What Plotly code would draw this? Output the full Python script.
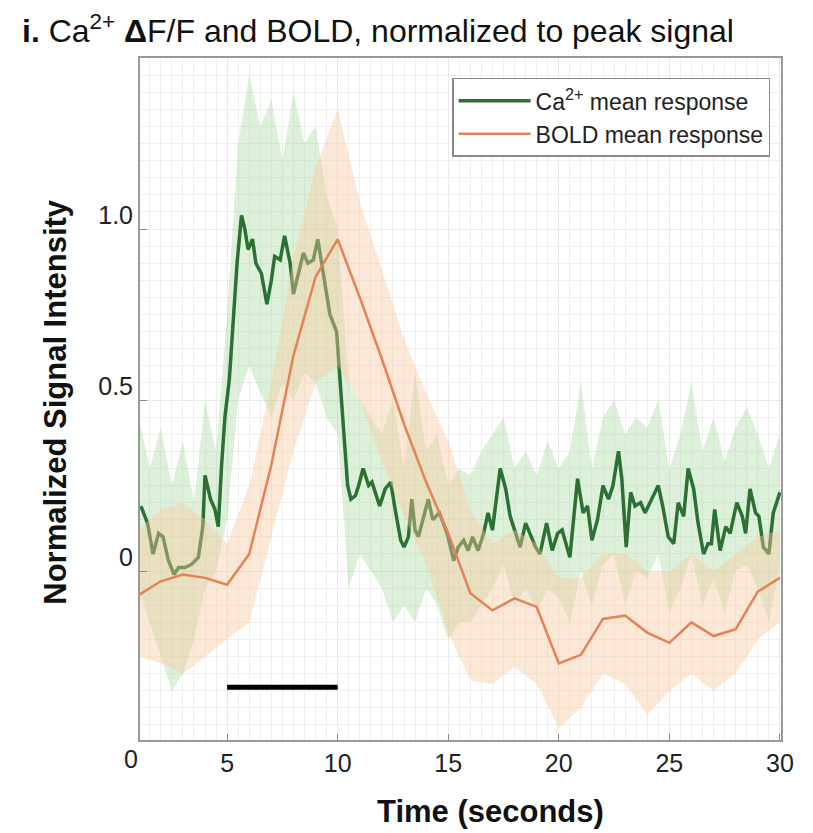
import plotly.graph_objects as go

# ---------------- data ----------------
ca_time = [1.1, 1.4, 1.65, 1.9, 2.1, 2.35, 2.6, 2.8, 3.1, 3.4,
           3.7, 3.9, 4.0, 4.25, 4.45, 4.6, 4.75, 4.9, 5.1, 5.3,
           5.45, 5.65, 5.8, 5.95, 6.15, 6.3, 6.55, 6.8, 7.0, 7.15,
           7.4, 7.6, 7.85, 8.0, 8.2, 8.45, 8.65, 8.9, 9.1, 9.35,
           9.65, 9.95, 10.2, 10.45, 10.6, 10.8, 10.95, 11.15, 11.4, 11.55,
           11.7, 11.9, 12.15, 12.4, 12.6, 12.85, 13.0, 13.2, 13.35, 13.5,
           13.65, 13.9, 14.1, 14.3, 14.6, 14.95, 15.25, 15.45, 15.7, 15.9,
           16.1, 16.35, 16.6, 16.8, 17.0, 17.35, 17.6, 17.8, 18.05, 18.25,
           18.5, 18.7, 18.95, 19.15, 19.45, 19.7, 19.95, 20.15, 20.5, 20.85,
           21.1, 21.3, 21.5, 21.75, 22.0, 22.25, 22.45, 22.7, 22.85, 23.05,
           23.25, 23.45, 23.7, 23.9, 24.2, 24.5, 24.7, 24.95, 25.2, 25.4,
           25.65, 25.85, 26.1, 26.3, 26.55, 26.75, 26.9, 27.05, 27.3, 27.55,
           27.75, 28.05, 28.3, 28.45, 28.65, 28.9, 29.05, 29.25, 29.5, 29.7,
           30.0]
ca_mean = [0.19, 0.14, 0.05, 0.11, 0.10, 0.03, -0.01, 0.01, 0.01, 0.02,
           0.04, 0.13, 0.28, 0.21, 0.18, 0.13, 0.31, 0.45, 0.56, 0.75,
           0.90, 1.04, 1.00, 0.94, 0.97, 0.90, 0.87, 0.78, 0.85, 0.92,
           0.91, 0.98, 0.90, 0.81, 0.86, 0.93, 0.90, 0.91, 0.97, 0.87,
           0.75, 0.70, 0.46, 0.25, 0.21, 0.22, 0.25, 0.30, 0.25, 0.26,
           0.23, 0.19, 0.24, 0.26, 0.18, 0.09, 0.07, 0.10, 0.21, 0.12,
           0.10, 0.16, 0.21, 0.15, 0.17, 0.11, 0.03, 0.07, 0.09, 0.06,
           0.10, 0.06, 0.11, 0.17, 0.12, 0.30, 0.24, 0.16, 0.11, 0.07,
           0.14, 0.11, 0.07, 0.05, 0.14, 0.06, 0.11, 0.12, 0.04, 0.27,
           0.17, 0.19, 0.09, 0.15, 0.25, 0.21, 0.25, 0.35, 0.27, 0.07,
           0.23, 0.19, 0.20, 0.17, 0.21, 0.25, 0.19, 0.10, 0.08, 0.20,
           0.16, 0.30, 0.24, 0.14, 0.05, 0.08, 0.08, 0.18, 0.06, 0.13,
           0.11, 0.20, 0.16, 0.11, 0.24, 0.17, 0.16, 0.07, 0.05, 0.17,
           0.23]

ca_band_time = [1.0, 1.5, 2.0, 2.5, 3.0, 3.5, 4.0, 4.5, 5.0, 5.5,
                6.0, 6.5, 7.0, 7.5, 8.0, 8.5, 9.0, 9.5, 10.0, 10.5,
                11.0, 11.5, 12.0, 12.5, 13.0, 13.5, 14.0, 14.5, 15.0, 15.5,
                16.0, 16.5, 17.0, 17.5, 18.0, 18.5, 19.0, 19.5, 20.0, 20.5,
                21.0, 21.5, 22.0, 22.5, 23.0, 23.5, 24.0, 24.5, 25.0, 25.5,
                26.0, 26.5, 27.0, 27.5, 28.0, 28.5, 29.0, 29.5, 30.0]
ca_upper = [0.45, 0.30, 0.42, 0.25, 0.38, 0.20, 0.50, 0.35, 0.75, 1.25,
            1.45, 1.30, 1.38, 1.20, 1.40, 1.25, 1.30, 1.10, 1.00, 0.55,
            0.50, 0.45, 0.40, 0.50, 0.30, 0.58, 0.35, 0.40, 0.25, 0.30,
            0.28, 0.35, 0.40, 0.45, 0.30, 0.35, 0.28, 0.38, 0.30, 0.35,
            0.55, 0.30, 0.45, 0.50, 0.40, 0.45, 0.42, 0.50, 0.30, 0.40,
            0.55, 0.35, 0.45, 0.32, 0.42, 0.48, 0.40, 0.30, 0.40]
ca_lower = [-0.05, -0.15, -0.25, -0.35, -0.30, -0.20, -0.05, 0.00, 0.15, 0.50,
            0.60, 0.52, 0.45, 0.55, 0.50, 0.58, 0.55, 0.45, 0.40, -0.05,
            0.05, 0.00, -0.05, -0.15, -0.10, -0.15, -0.05, -0.10, -0.20, -0.15,
            -0.15, -0.10, -0.05, 0.02, -0.10, -0.05, -0.12, -0.05, -0.08, -0.15,
            0.00, -0.10, 0.02, 0.05, -0.10, 0.00, -0.02, 0.05, -0.12, -0.05,
            0.05, -0.10, -0.02, -0.12, 0.00, 0.02, -0.05, -0.15, 0.02]

bold_time = [1, 2, 3, 4, 5, 6, 7, 8, 9, 10,
             11, 12, 13, 14, 15, 16, 17, 18, 19, 20,
             21, 22, 23, 24, 25, 26, 27, 28, 29, 30]
bold_mean = [-0.07, -0.03, -0.01, -0.02, -0.04, 0.05, 0.31, 0.63, 0.86, 0.97,
             0.80, 0.62, 0.43, 0.26, 0.11, -0.065, -0.115, -0.08, -0.105, -0.27,
             -0.245, -0.14, -0.13, -0.18, -0.21, -0.15, -0.19, -0.17, -0.06, -0.02]
bold_upper = [0.12, 0.18, 0.20, 0.15, 0.08, 0.25, 0.55, 0.92, 1.18, 1.35,
              1.08, 0.88, 0.68, 0.52, 0.38, 0.18, 0.08, 0.12, 0.08, -0.02,
              -0.02, 0.05, 0.05, 0.00, 0.00, 0.05, 0.00, 0.05, 0.10, 0.12]
bold_lower = [-0.25, -0.27, -0.30, -0.25, -0.20, -0.15, 0.10, 0.35, 0.55, 0.60,
              0.50, 0.32, 0.16, 0.02, -0.18, -0.32, -0.33, -0.28, -0.33, -0.46,
              -0.40, -0.30, -0.33, -0.42, -0.35, -0.30, -0.35, -0.30, -0.20, -0.15]

stim_time = [5, 10]
stim_level = [-0.34, -0.34]

x_ticks = [5, 10, 15, 20, 25, 30]
y_ticks = [0, 0.5, 1.0]
y_ticktext = ["0", "0.5", "1.0"]

FONT = "Liberation Sans, Arial, Helvetica, sans-serif"

fig = go.Figure()

fig.add_trace(go.Scatter(
    x=ca_band_time + ca_band_time[::-1], y=ca_upper + ca_lower[::-1],
    fill="toself", fillcolor="rgba(150,210,140,0.32)", line=dict(width=0),
    showlegend=False, hoverinfo="skip"))
fig.add_trace(go.Scatter(
    x=ca_time, y=ca_mean, mode="lines", name="Ca<sup>2+</sup> mean response",
    line=dict(color="rgb(44,112,52)", width=3.5)))
fig.add_trace(go.Scatter(
    x=bold_time + bold_time[::-1], y=bold_upper + bold_lower[::-1],
    fill="toself", fillcolor="rgba(248,200,160,0.42)", line=dict(width=0),
    showlegend=False, hoverinfo="skip"))
fig.add_trace(go.Scatter(
    x=bold_time, y=bold_mean, mode="lines", name="BOLD mean response",
    line=dict(color="rgb(229,128,88)", width=2.5)))
fig.add_trace(go.Scatter(
    x=stim_time, y=stim_level, mode="lines", showlegend=False,
    line=dict(color="black", width=5)))

fig.update_layout(
    width=813, height=833,
    margin=dict(l=140, r=32, t=58, b=93),
    paper_bgcolor="white", plot_bgcolor="white",
    font=dict(family=FONT, color="#222"),
    title=dict(text="<b>i.</b> Ca<sup>2+</sup> <b>Δ</b>F/F and BOLD, normalized to peak signal",
               x=22 / 813, xanchor="left", xref="container",
               y=1 - 31 / 833, yanchor="middle", yref="container",
               font=dict(size=32, color="#111")),
    legend=dict(x=0.983, y=0.971, xanchor="right", yanchor="top",
                bgcolor="white", bordercolor="#888", borderwidth=1.5,
                font=dict(size=23, color="#222"), tracegroupgap=0,
                itemwidth=72),
    showlegend=True,
)

fig.update_xaxes(
    range=[1.06, 30.05], tickvals=x_ticks, ticks="inside", ticklen=6,
    tickcolor="#888", tickfont=dict(size=25, color="#222"),
    showline=True, linecolor="#999", linewidth=2, mirror=True,
    showgrid=True, gridcolor="#e9e9e9", gridwidth=1,
    minor=dict(dtick=0.5, showgrid=True, gridcolor="#efefef", ticks=""),
    zeroline=False)
fig.update_yaxes(
    range=[-0.494, 1.5], tickvals=y_ticks, ticktext=y_ticktext,
    ticks="inside", ticklen=7, tickcolor="#888",
    tickfont=dict(size=25, color="#222"), ticklabelshift=-14,
    showline=True, linecolor="#999", linewidth=2, mirror=True,
    showgrid=True, gridcolor="#e9e9e9", gridwidth=1,
    minor=dict(dtick=0.05, showgrid=True, gridcolor="#efefef", ticks=""),
    zeroline=False)

# x tick "0" sits just left of the visible window
fig.add_annotation(text="0", x=(122 - 140) / 641, xref="paper", y=0, yref="paper",
                   yanchor="top", yshift=-3, showarrow=False,
                   font=dict(size=25, color="#222"))
fig.add_annotation(text="<b>Time (seconds)</b>", x=(490 - 140) / 641, xref="paper",
                   y=(740 - 812) / 682, yref="paper", yanchor="middle",
                   showarrow=False, font=dict(size=31, color="#111"))
fig.add_annotation(text="<b>Normalized Signal Intensity</b>", textangle=-90,
                   x=(56 - 140) / 641, xref="paper", y=0.496, yref="paper",
                   xanchor="center", yanchor="middle", showarrow=False,
                   font=dict(size=31, color="#111"))

fig.write_html("out.html")
